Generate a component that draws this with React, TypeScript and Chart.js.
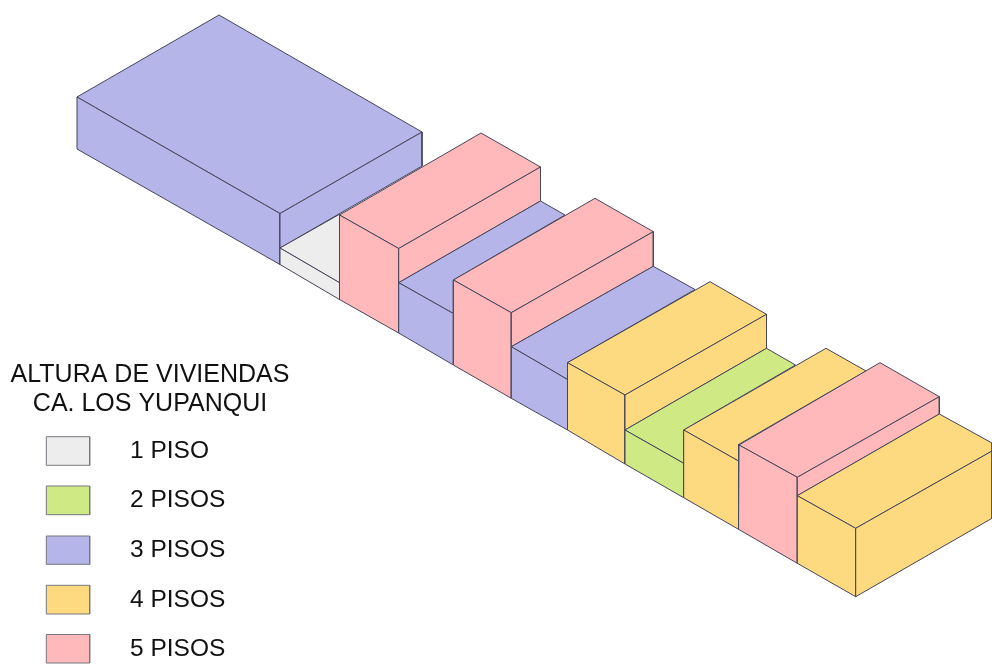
import React, { useEffect, useRef } from "react";
import { Chart, registerables } from "chart.js";

Chart.register(...registerables);

type Pt = [number, number];

const floorLabels = ["1 PISO", "2 PISOS", "3 PISOS", "4 PISOS", "5 PISOS"];
const floorColors = ["#EDEDED", "#CFE985", "#B5B5EA", "#FDDA7F", "#FFB9BA"];
const titleLines = ["ALTURA DE VIVIENDAS", "CA. LOS YUPANQUI"];

const titleBaselines = [381.5, 411];
const labelBaselines = [457.7, 507.3, 556.7, 606.7, 656];
const swatchTops = [436.7, 486, 536, 585.3, 634.5];
const swatchBottoms = [465.3, 514.7, 564.3, 614, 663];
const swatchSides = [46.3, 89.7];

const block1Top: Pt[] = [[219, 15], [422, 132], [280, 213.5], [77, 97]];
const block1Left: Pt[] = [[77, 97], [280, 213.5], [280, 264.5], [77, 149]];
const block1Right: Pt[] = [[280, 213.5], [422, 132], [422, 166], [280, 248]];
const block2Top: Pt[] = [[280, 248], [340, 214], [340, 283]];
const block2Left: Pt[] = [[280, 248], [339.5, 282.7], [339.5, 299.5], [280, 264.5]];
const block3Top: Pt[] = [[339.5, 215], [481, 133], [540.5, 167], [398.7, 248.5]];
const block3Left: Pt[] = [[339.5, 215], [398.7, 248.5], [398.7, 333], [339.5, 299.5]];
const block3Right: Pt[] = [[398.7, 248.5], [540.5, 167], [540.5, 201], [398.7, 282.7]];
const block4Top: Pt[] = [[398.7, 282.7], [540.5, 201], [565, 215], [453.4, 280], [453.4, 313.5]];
const block4Left: Pt[] = [[398.7, 282.7], [453.4, 313.5], [453.4, 365], [398.7, 333]];
const block5Top: Pt[] = [[453.4, 280], [595, 198.3], [653.3, 231.7], [511.3, 312.7]];
const block5Left: Pt[] = [[453.4, 280], [511.3, 312.7], [511.3, 398.3], [453.4, 365]];
const block5Right: Pt[] = [[511.3, 312.7], [653.3, 231.7], [653.3, 266.3], [511.3, 346.7]];
const block6Top: Pt[] = [[511.3, 346.7], [653.3, 266.3], [695, 289.5], [567.5, 362.7], [567.5, 379.5]];
const block6Left: Pt[] = [[511.3, 346.7], [567.5, 379.5], [567.5, 430], [511.3, 398.3]];
const block7Top: Pt[] = [[567.5, 362.7], [710, 281.7], [766.5, 314.3], [625, 395]];
const block7Left: Pt[] = [[567.5, 362.7], [625, 395], [625, 464], [567.5, 430]];
const block7Right: Pt[] = [[625, 395], [766.5, 314.3], [766.5, 348.3], [625, 430]];
const block8Top: Pt[] = [[625, 430], [766.5, 348.3], [795.5, 365], [683.7, 430], [683.7, 463.3]];
const block8Left: Pt[] = [[625, 430], [683.7, 463.3], [683.7, 497.7], [625, 464]];
const block9Top: Pt[] = [[683.7, 430], [826, 348.3], [866, 371], [738.5, 444.5], [738.5, 461]];
const block9Left: Pt[] = [[683.7, 430], [738.5, 461], [738.5, 529.3], [683.7, 497.7]];
const block10Top: Pt[] = [[739, 445], [880, 362.7], [939.3, 396.7], [797.3, 477.3]];
const block10Left: Pt[] = [[739, 445], [797.3, 477.3], [797.3, 563.3], [738.5, 529.3]];
const block10Right: Pt[] = [[797.3, 477.3], [939.3, 396.7], [939.3, 414], [797.3, 495.7]];
const block11Top: Pt[] = [[797.3, 495.7], [939.3, 414], [992, 443], [992, 451], [855.7, 528.3]];
const block11Left: Pt[] = [[797.3, 495.7], [855.7, 528.3], [855.7, 596.7], [797.3, 563.3]];
const block11Right: Pt[] = [[855.7, 528.3], [992, 451], [992, 518.3], [855.7, 596.7]];

// floors of each face, index into floorColors, painted back to front
const faces: [Pt[], number][] = [
  [block1Top, 2], [block1Left, 2], [block1Right, 2],
  [block2Top, 0], [block2Left, 0],
  [block3Top, 4], [block3Left, 4], [block3Right, 4],
  [block4Top, 2], [block4Left, 2],
  [block5Top, 4], [block5Left, 4], [block5Right, 4],
  [block6Top, 2], [block6Left, 2],
  [block7Top, 3], [block7Left, 3], [block7Right, 3],
  [block8Top, 1], [block8Left, 1],
  [block9Top, 3], [block9Left, 3],
  [block10Top, 4], [block10Left, 4], [block10Right, 4],
  [block11Top, 3], [block11Left, 3], [block11Right, 3],
];

const EDGE = "#45455A";

const closed = (pts: Pt[]) =>
  [...pts, pts[0]].map(([x, y]) => ({ x, y }));

const textPlugin = {
  id: "floorText",
  afterDatasetsDraw(chart: any) {
    const { ctx, scales } = chart;
    ctx.save();
    ctx.fillStyle = "#111111";
    ctx.textBaseline = "alphabetic";
    ctx.font = '25px "Liberation Sans"';
    ctx.textAlign = "center";
    titleLines.forEach((t, i) =>
      ctx.fillText(t, scales.x.getPixelForValue(150), scales.y.getPixelForValue(titleBaselines[i]))
    );
    ctx.font = '24.5px "Liberation Sans"';
    ctx.textAlign = "left";
    floorLabels.forEach((t, i) =>
      ctx.fillText(t, scales.x.getPixelForValue(130), scales.y.getPixelForValue(labelBaselines[i]))
    );
    ctx.restore();
  },
};

export default function App() {
  const ref = useRef<HTMLCanvasElement>(null);
  useEffect(() => {
    const faceSets = faces.map(([pts, floor]) => ({
      label: floorLabels[floor],
      data: closed(pts),
      borderColor: EDGE,
      borderWidth: 1,
      backgroundColor: floorColors[floor],
    }));
    const swatchSets = floorLabels.map((label, i) => ({
      label,
      data: closed([
        [swatchSides[0], swatchTops[i]],
        [swatchSides[1], swatchTops[i]],
        [swatchSides[1], swatchBottoms[i]],
        [swatchSides[0], swatchBottoms[i]],
      ]),
      borderColor: "#77777F",
      borderWidth: 1,
      backgroundColor: floorColors[i],
    }));
    const all = [...faceSets, ...swatchSets];
    const chart = new Chart(ref.current!, {
      type: "scatter",
      plugins: [textPlugin],
      data: {
        datasets: all.map((d, i) => ({
          ...d,
          showLine: true,
          fill: "shape",
          pointRadius: 0,
          tension: 0,
          order: all.length - i,
        })),
      },
      options: {
        animation: false,
        responsive: false,
        layout: { padding: 0 },
        plugins: {
          legend: { display: false },
          tooltip: { enabled: false },
          title: { display: false },
        },
        scales: {
          x: { type: "linear", min: 0, max: 992, display: false },
          y: { type: "linear", min: 0, max: 664, reverse: true, display: false },
        },
      },
    } as any);
    return () => chart.destroy();
  }, []);
  return (
    <div style={{ position: "fixed", left: 0, top: 0, width: 992, height: 664, background: "#fff" }}>
      <canvas ref={ref} width={992} height={664} style={{ display: "block" }} />
    </div>
  );
}
